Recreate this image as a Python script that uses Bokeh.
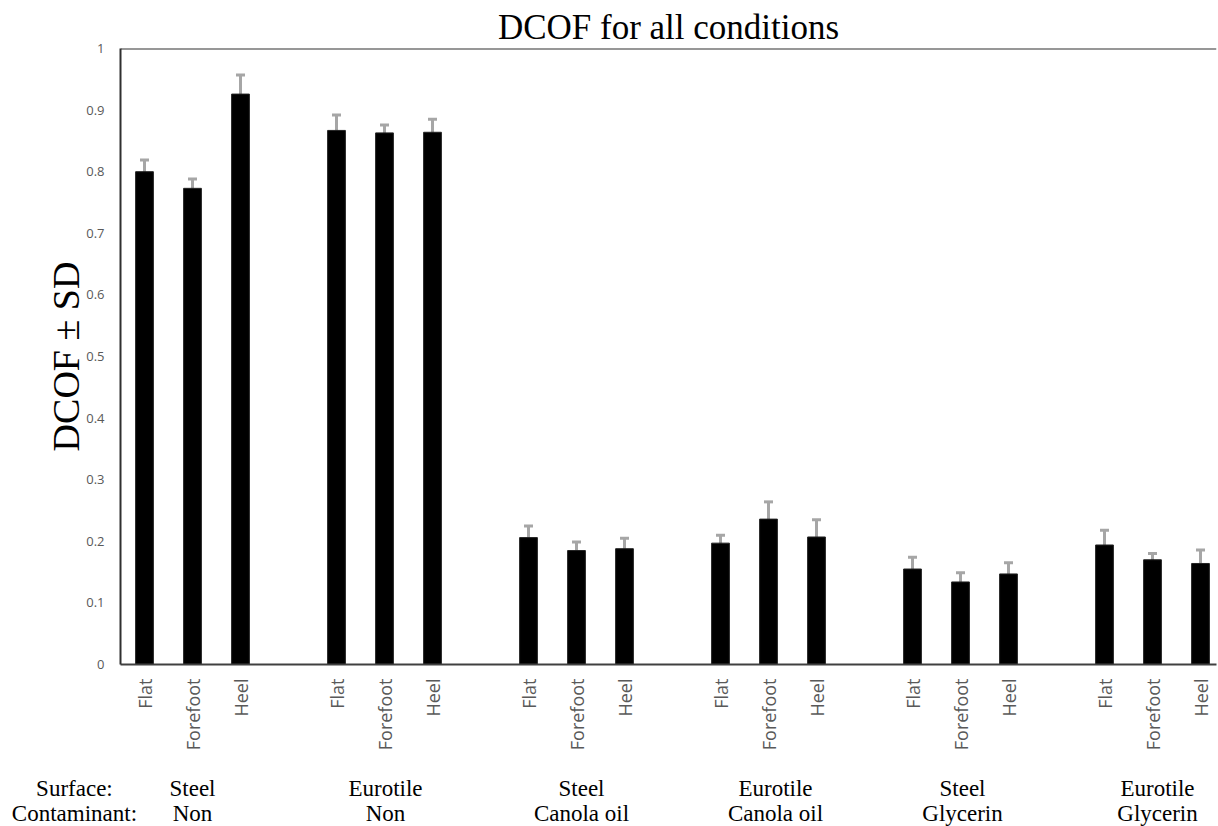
import numpy as np
from bokeh.plotting import figure
from bokeh.layouts import column
from bokeh.models import (ColumnDataSource, Whisker, TeeHead, FixedTicker,
                          Span, Range1d, CustomJSTickFormatter)
from bokeh.embed import file_html
from bokeh.resources import INLINE

# ---- data ----
surfaces = ["Steel", "Eurotile", "Steel", "Eurotile", "Steel", "Eurotile"]
contaminants = ["Non", "Non", "Canola oil", "Canola oil", "Glycerin", "Glycerin"]
shoes = ["Flat", "Forefoot", "Heel"]
dcof = [0.800, 0.773, 0.926,
        0.867, 0.863, 0.864,
        0.206, 0.185, 0.188,
        0.197, 0.236, 0.207,
        0.155, 0.134, 0.147,
        0.194, 0.170, 0.164]
sd = [0.019, 0.015, 0.031,
      0.025, 0.013, 0.021,
      0.019, 0.014, 0.017,
      0.013, 0.028, 0.028,
      0.019, 0.015, 0.018,
      0.024, 0.010, 0.022]
y_ticks = [0, 0.1, 0.2, 0.3, 0.4, 0.5, 0.6, 0.7, 0.8, 0.9, 1]

# ---- positions from category indices ----
slot = 4
xs = [slot * g + k for g in range(len(surfaces)) for k in range(len(shoes))]
labels = [shoes[k] for g in range(len(surfaces)) for k in range(len(shoes))]
src = ColumnDataSource(dict(
    x=xs, top=dcof,
    upper=[v + s for v, s in zip(dcof, sd)],
    lower=[v - s for v, s in zip(dcof, sd)],
))

W = 1218
left_b, right_b, top_b = 120, 2, 48
main_h = 760
px_per_unit = 48.0
x_start = -0.5
x_end = x_start + (W - left_b - right_b) / px_per_unit

p = figure(width=W, height=main_h, output_backend="svg", toolbar_location=None,
           x_range=Range1d(x_start, x_end), y_range=Range1d(0, 1),
           min_border_left=left_b, min_border_right=right_b, min_border_top=top_b,
           min_border_bottom=main_h - 664)
p.frame_align = False
p.outline_line_color = None
p.xgrid.grid_line_color = None
p.ygrid.grid_line_color = None
p.background_fill_color = "white"
p.border_fill_color = "white"

p.title.text = "DCOF for all conditions"
p.title.text_font = "Liberation Serif"
p.title.text_font_size = "35px"
p.title.text_font_style = "normal"
p.title.align = "center"
p.title.standoff = 3
p.title.text_color = "black"

p.vbar(x="x", top="top", width=0.37, source=src, fill_color="black",
       line_color="#222222", line_width=1)

err_col = "#a6a6a6"
w = Whisker(source=src, base="x", upper="upper", lower="lower",
            line_color=err_col, line_width=3,
            upper_head=TeeHead(size=9, line_color=err_col, line_width=3),
            lower_head=TeeHead(size=9, line_color=err_col, line_width=3))
p.add_layout(w)

# top border line
p.add_layout(Span(location=1, dimension="width", line_color="#303030", line_width=2))

# y axis
p.yaxis.ticker = FixedTicker(ticks=y_ticks)
p.yaxis.formatter = CustomJSTickFormatter(code="return (Math.round(tick*10)/10).toString();")
p.yaxis.major_tick_line_color = None
p.yaxis.minor_tick_line_color = None
p.yaxis.axis_line_color = "#303030"
p.yaxis.axis_line_width = 2
p.yaxis.major_label_text_font = "Open Sans"
p.yaxis.major_label_text_font_size = "13px"
p.yaxis.major_label_text_color = "#595959"
p.yaxis.major_label_standoff = 10
p.yaxis.axis_label = "DCOF ± SD"
p.yaxis.axis_label_text_font = "Liberation Serif"
p.yaxis.axis_label_text_font_style = "normal"
p.yaxis.axis_label_text_font_size = "38px"
p.yaxis.axis_label_text_color = "black"
p.yaxis.axis_label_standoff = -4

# x axis
p.xaxis.ticker = FixedTicker(ticks=xs)
p.xaxis.major_label_overrides = {x: l for x, l in zip(xs, labels)}
p.xaxis.major_label_orientation = np.pi / 2
p.xaxis.major_tick_line_color = None
p.xaxis.minor_tick_line_color = None
p.xaxis.axis_line_color = "#404040"
p.xaxis.axis_line_width = 2
p.xaxis.major_label_text_font = "Open Sans"
p.xaxis.major_label_text_font_size = "18px"
p.xaxis.major_label_text_color = "#595959"
p.xaxis.major_label_standoff = 8

# ---- group labels strip below the chart (same data units in x) ----
H_total = 826
strip_h = H_total - main_h
b = figure(width=W, height=strip_h, output_backend="svg", toolbar_location=None,
           x_range=Range1d(x_start - left_b / px_per_unit, x_end + right_b / px_per_unit),
           y_range=Range1d(H_total, main_h),
           x_axis_type=None, y_axis_type=None,
           min_border_left=0, min_border_right=0, min_border_top=0, min_border_bottom=0)
b.frame_align = False
b.outline_line_color = None
b.xgrid.grid_line_color = None
b.ygrid.grid_line_color = None
b.border_fill_color = "white"

y_surf, y_cont = 788, 813
nudge_px = [0, 1, 5, 7, 2, 5]  # small horizontal layout nudges of the group captions
gx = [slot * g + 1 + nudge_px[g] / px_per_unit for g in range(len(surfaces))]
lab_src = ColumnDataSource(dict(
    x=[-1.46, -1.46] + gx + gx,
    y=[y_surf, y_cont] + [y_surf] * len(gx) + [y_cont] * len(gx),
    t=["Surface:", "Contaminant:"] + surfaces + contaminants,
))
b.text(x="x", y="y", text="t", source=lab_src, text_font={"value": "Liberation Serif"},
       text_font_size="23px", text_align="center", text_baseline="middle",
       text_color="black")

layout = column(p, b, spacing=0)
open("out.html", "w").write(file_html(layout, INLINE))
